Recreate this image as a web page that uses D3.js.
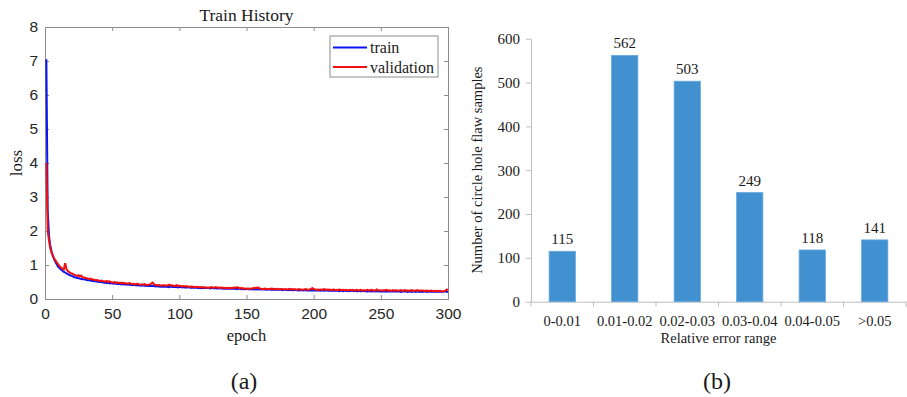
<!DOCTYPE html>
<html>
<head>
<meta charset="utf-8">
<script src="https://cdn.jsdelivr.net/npm/d3@7"></script>
<style>
  body { margin: 0; background: #fff; }
  svg { display: block; }
  .serif { font-family: "Liberation Serif", "Times New Roman", serif; fill: #1a1a1a; }
  .sans { font-family: "Liberation Sans", Arial, sans-serif; fill: #262626; }
</style>
</head>
<body>
<svg id="chart" width="907" height="397"></svg>
<script>
// (a) loss per epoch
const trainLoss = [
  7.05,2.60,1.85,1.55,1.38,1.25,1.15,1.07,1.00,0.94,
  0.90,0.86,0.83,0.80,0.78,0.75,0.73,0.71,0.69,0.68,
  0.66,0.64,0.63,0.62,0.61,0.60,0.59,0.58,0.58,0.57,
  0.56,0.55,0.55,0.54,0.53,0.53,0.52,0.52,0.51,0.51,
  0.50,0.49,0.50,0.48,0.48,0.47,0.48,0.46,0.47,0.46,
  0.45,0.46,0.45,0.44,0.45,0.44,0.43,0.44,0.43,0.43,
  0.42,0.43,0.42,0.41,0.42,0.41,0.41,0.40,0.41,0.40,
  0.40,0.39,0.40,0.39,0.39,0.38,0.39,0.38,0.38,0.39,
  0.38,0.37,0.38,0.37,0.37,0.36,0.37,0.36,0.37,0.36,
  0.36,0.35,0.36,0.37,0.35,0.35,0.36,0.35,0.34,0.35,
  0.35,0.34,0.35,0.34,0.34,0.34,0.35,0.33,0.34,0.33,
  0.33,0.33,0.34,0.32,0.33,0.32,0.33,0.32,0.32,0.33,
  0.32,0.32,0.31,0.32,0.32,0.31,0.32,0.31,0.31,0.32,
  0.31,0.31,0.30,0.31,0.30,0.31,0.30,0.30,0.31,0.30,
  0.30,0.30,0.29,0.30,0.30,0.29,0.30,0.29,0.29,0.30,
  0.29,0.29,0.28,0.29,0.29,0.28,0.29,0.28,0.29,0.28,
  0.28,0.29,0.28,0.28,0.27,0.28,0.28,0.27,0.28,0.27,
  0.28,0.27,0.27,0.28,0.27,0.27,0.26,0.27,0.27,0.26,
  0.27,0.26,0.27,0.26,0.26,0.27,0.26,0.26,0.25,0.26,
  0.26,0.25,0.26,0.26,0.25,0.26,0.25,0.25,0.26,0.25,
  0.25,0.26,0.25,0.25,0.24,0.25,0.25,0.24,0.25,0.25,
  0.24,0.25,0.24,0.25,0.24,0.24,0.25,0.24,0.23,0.24,
  0.24,0.23,0.24,0.24,0.23,0.24,0.23,0.24,0.24,0.23,
  0.24,0.23,0.23,0.24,0.23,0.23,0.24,0.23,0.23,0.22,
  0.23,0.23,0.22,0.23,0.23,0.22,0.23,0.23,0.22,0.23,
  0.22,0.23,0.22,0.23,0.22,0.22,0.23,0.22,0.22,0.23,
  0.22,0.22,0.23,0.22,0.21,0.22,0.22,0.23,0.22,0.21,
  0.22,0.22,0.21,0.22,0.22,0.21,0.22,0.22,0.21,0.22,
  0.21,0.22,0.22,0.21,0.22,0.21,0.21,0.22,0.21,0.21,
  0.22,0.21,0.21,0.22,0.21,0.21,0.22,0.23,0.21,0.22
];
const valLoss = [
  4.00,2.00,1.70,1.48,1.35,1.26,1.18,1.12,1.06,1.01,
  0.96,0.92,0.89,0.87,1.05,0.88,0.82,0.79,0.76,0.75,
  0.73,0.71,0.69,0.68,0.70,0.66,0.69,0.64,0.63,0.62,
  0.61,0.60,0.59,0.60,0.57,0.57,0.56,0.55,0.56,0.54,
  0.53,0.54,0.52,0.52,0.51,0.53,0.50,0.52,0.50,0.49,
  0.48,0.50,0.47,0.49,0.47,0.48,0.46,0.48,0.46,0.47,
  0.45,0.46,0.47,0.45,0.44,0.45,0.43,0.44,0.45,0.43,
  0.42,0.43,0.42,0.44,0.42,0.41,0.42,0.43,0.45,0.48,
  0.44,0.42,0.41,0.40,0.41,0.40,0.39,0.41,0.39,0.40,
  0.39,0.42,0.41,0.39,0.40,0.38,0.39,0.41,0.38,0.39,
  0.38,0.37,0.38,0.37,0.38,0.36,0.37,0.36,0.37,0.36,
  0.35,0.36,0.35,0.36,0.34,0.35,0.34,0.35,0.34,0.33,
  0.34,0.33,0.34,0.35,0.34,0.33,0.35,0.34,0.33,0.34,
  0.33,0.34,0.32,0.33,0.32,0.33,0.32,0.33,0.32,0.33,
  0.34,0.33,0.35,0.32,0.33,0.31,0.32,0.31,0.30,0.31,
  0.30,0.31,0.30,0.31,0.32,0.33,0.32,0.34,0.33,0.30,
  0.30,0.29,0.30,0.31,0.29,0.30,0.29,0.30,0.31,0.29,
  0.30,0.29,0.30,0.29,0.28,0.30,0.29,0.28,0.29,0.28,
  0.29,0.30,0.28,0.29,0.28,0.29,0.27,0.28,0.29,0.28,
  0.28,0.27,0.28,0.29,0.28,0.27,0.28,0.30,0.32,0.30,
  0.28,0.27,0.28,0.27,0.28,0.27,0.28,0.29,0.27,0.28,
  0.27,0.28,0.26,0.27,0.28,0.26,0.27,0.26,0.28,0.27,
  0.26,0.27,0.26,0.27,0.26,0.25,0.27,0.26,0.27,0.25,
  0.26,0.27,0.25,0.26,0.27,0.25,0.26,0.25,0.26,0.27,
  0.25,0.26,0.27,0.25,0.26,0.25,0.28,0.26,0.25,0.26,
  0.25,0.26,0.25,0.27,0.25,0.26,0.25,0.24,0.26,0.25,
  0.26,0.25,0.24,0.25,0.26,0.24,0.25,0.26,0.24,0.25,
  0.24,0.25,0.26,0.24,0.25,0.24,0.26,0.25,0.24,0.25,
  0.24,0.25,0.23,0.25,0.24,0.23,0.25,0.24,0.23,0.24,
  0.23,0.24,0.23,0.24,0.23,0.22,0.23,0.24,0.28,0.26
];
const epochTicks = [0, 50, 100, 150, 200, 250, 300];
const lossTicks = [0, 1, 2, 3, 4, 5, 6, 7, 8];

// (b) error histogram
const ranges = ["0-0.01", "0.01-0.02", "0.02-0.03", "0.03-0.04", "0.04-0.05", ">0.05"];
const counts = [115, 562, 503, 249, 118, 141];
const countTicks = [0, 100, 200, 300, 400, 500, 600];

const svg = d3.select("#chart");

// ---------- (a) ----------
const A = { left: 45, right: 448, top: 27, bottom: 299 };
const x = d3.scaleLinear().domain([0, 300]).range([A.left, A.right]);
const y = d3.scaleLinear().domain([0, 8]).range([A.bottom, A.top]);
const axGrey = "#8c8c8c";

const ga = svg.append("g");

// ticks pointing inwards on all four sides, matlab style
ga.append("g").attr("transform", `translate(0,${A.bottom})`)
  .call(d3.axisBottom(x).tickValues(epochTicks).tickSize(-4).tickPadding(9).tickSizeOuter(0));
ga.append("g").attr("transform", `translate(0,${A.top})`)
  .call(d3.axisTop(x).tickValues(epochTicks).tickSize(-4).tickFormat("").tickSizeOuter(0));
ga.append("g").attr("transform", `translate(${A.left},0)`)
  .call(d3.axisLeft(y).tickValues(lossTicks).tickSize(-4).tickPadding(7).tickSizeOuter(0));
ga.append("g").attr("transform", `translate(${A.right},0)`)
  .call(d3.axisRight(y).tickValues(lossTicks).tickSize(-4).tickFormat("").tickSizeOuter(0));

ga.selectAll(".domain").attr("stroke", axGrey);
ga.selectAll(".tick line").attr("stroke", axGrey);
ga.selectAll(".tick text")
  .attr("class", "sans")
  .style("font-size", "15.5px");

const line = d3.line()
  .x((d, i) => x(i + 1))
  .y(d => y(d));

ga.append("path").datum(trainLoss)
  .attr("d", line).attr("fill", "none")
  .attr("stroke", "#0a14f0").attr("stroke-width", 2);
ga.append("path").datum(valLoss)
  .attr("d", line).attr("fill", "none")
  .attr("stroke", "#f01010").attr("stroke-width", 2);

ga.append("text").attr("class", "serif")
  .attr("x", (A.left + A.right) / 2).attr("y", 21)
  .attr("text-anchor", "middle").style("font-size", "17.5px")
  .text("Train History");
ga.append("text").attr("class", "serif")
  .attr("x", (A.left + A.right) / 2).attr("y", 341)
  .attr("text-anchor", "middle").style("font-size", "16.5px")
  .text("epoch");
ga.append("text").attr("class", "serif")
  .attr("transform", `translate(22,${(A.top + A.bottom) / 2}) rotate(-90)`)
  .attr("text-anchor", "middle").style("font-size", "17px")
  .text("loss");

// legend
const lg = ga.append("g").attr("transform", "translate(330,36)");
lg.append("rect").attr("width", 108).attr("height", 41)
  .attr("fill", "#fff").attr("stroke", axGrey);
[["train", "#0a14f0"], ["validation", "#f01010"]].forEach(([name, c], i) => {
  const yy = 11.5 + i * 19.5;
  lg.append("line").attr("x1", 3).attr("x2", 37).attr("y1", yy).attr("y2", yy)
    .attr("stroke", c).attr("stroke-width", 2);
  lg.append("text").attr("class", "serif")
    .attr("x", 40).attr("y", yy + 5.5).style("font-size", "16px").text(name);
});

ga.append("text").attr("class", "serif")
  .attr("x", 244).attr("y", 389).attr("text-anchor", "middle")
  .style("font-size", "24px").text("(a)");

// ---------- (b) ----------
const B = { left: 531, right: 906, top: 38.7, bottom: 301.7 };
const xb = d3.scaleBand().domain(ranges).range([B.left, B.right]).paddingInner(0.58).paddingOuter(0.29);
const xbEdge = d3.scaleBand().domain(ranges).range([B.left, B.right]);
const yb = d3.scaleLinear().domain([0, 600]).range([B.bottom, B.top]);
const barGrey = "#bdbdbd";

const gb = svg.append("g");

gb.append("g").attr("transform", `translate(${B.left},0)`)
  .call(d3.axisLeft(yb).tickValues(countTicks).tickSize(5).tickPadding(6).tickSizeOuter(0));

const xAx = gb.append("g").attr("transform", `translate(0,${B.bottom})`)
  .call(d3.axisBottom(xb).tickSize(0).tickPadding(14));
// tick marks sit on the category boundaries
xAx.selectAll(".edge")
  .data(ranges.map(r => xbEdge(r)).concat([B.right]))
  .enter().append("line")
  .attr("class", "edge")
  .attr("x1", d => d).attr("x2", d => d)
  .attr("y1", 0).attr("y2", 5)
  .attr("stroke", barGrey);

gb.selectAll(".domain").attr("stroke", barGrey);
gb.selectAll(".tick line").attr("stroke", barGrey);
gb.selectAll(".tick text")
  .attr("class", "serif")
  .style("font-size", "15px");
xAx.selectAll(".tick text").style("font-size", "14.5px");

gb.selectAll(".bar")
  .data(counts)
  .enter().append("rect")
  .attr("class", "bar")
  .attr("x", (d, i) => xb(ranges[i]))
  .attr("width", xb.bandwidth())
  .attr("y", d => yb(d))
  .attr("height", d => yb(0) - yb(d))
  .attr("fill", "#4190d0")
  .attr("stroke", "#6aa9dc").attr("stroke-width", 0.8);

gb.selectAll(".val")
  .data(counts)
  .enter().append("text")
  .attr("class", "serif")
  .attr("x", (d, i) => xb(ranges[i]) + xb.bandwidth() / 2)
  .attr("y", d => yb(d) - 7)
  .attr("text-anchor", "middle")
  .style("font-size", "15px")
  .text(d => d);

gb.append("text").attr("class", "serif")
  .attr("x", (B.left + B.right) / 2).attr("y", 343)
  .attr("text-anchor", "middle").style("font-size", "14.5px")
  .text("Relative error range");
gb.append("text").attr("class", "serif")
  .attr("transform", `translate(482,${(B.top + B.bottom) / 2}) rotate(-90)`)
  .attr("text-anchor", "middle").style("font-size", "14.5px")
  .text("Number of circle hole flaw samples");

gb.append("text").attr("class", "serif")
  .attr("x", 717).attr("y", 389).attr("text-anchor", "middle")
  .style("font-size", "24px").text("(b)");
</script>
</body>
</html>
